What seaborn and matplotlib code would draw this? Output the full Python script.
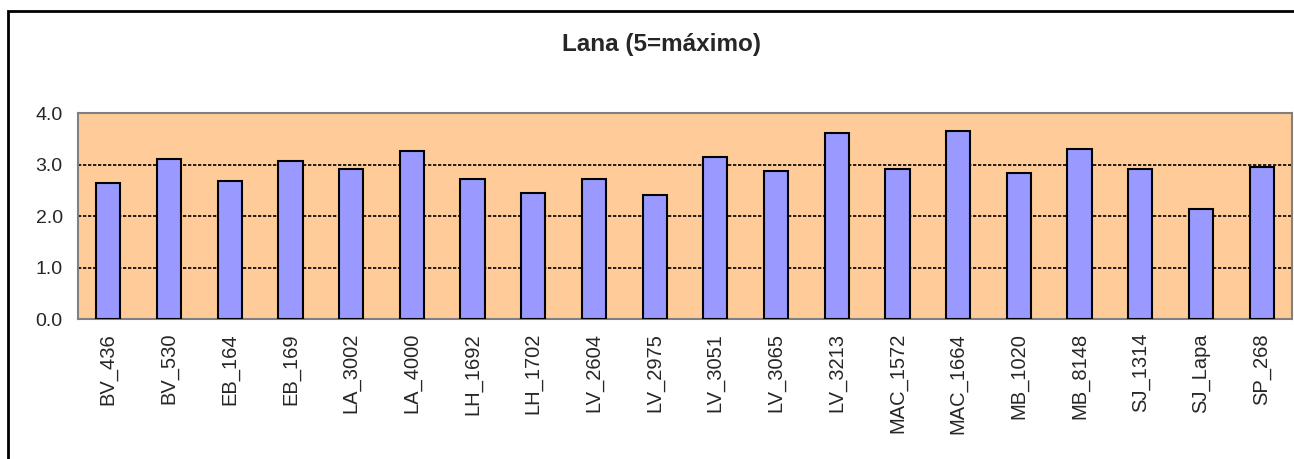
import pandas as pd
import seaborn as sns
import matplotlib.pyplot as plt
from matplotlib.patches import Rectangle

# values
muestras = ['BV_436', 'BV_530', 'EB_164', 'EB_169', 'LA_3002', 'LA_4000',
            'LH_1692', 'LH_1702', 'LV_2604', 'LV_2975', 'LV_3051', 'LV_3065',
            'LV_3213', 'MAC_1572', 'MAC_1664', 'MB_1020', 'MB_8148', 'SJ_1314',
            'SJ_Lapa', 'SP_268']
lana = [2.65, 3.11, 2.68, 3.07, 2.92, 3.27,
        2.72, 2.45, 2.72, 2.41, 3.15, 2.88,
        3.62, 2.92, 3.66, 2.84, 3.31, 2.92,
        2.14, 2.96]
y_ticks = [0.0, 1.0, 2.0, 3.0, 4.0]
titulo = 'Lana (5=máximo)'

df = pd.DataFrame({'muestra': muestras, 'lana': lana})

sns.set_style('white')
plt.rcParams['font.family'] = ['Liberation Sans', 'DejaVu Sans']

fig = plt.figure(figsize=(12.94, 4.59), dpi=100)
ax = fig.add_axes([78 / 1294, 140 / 459, 1214 / 1294, 206 / 459])

sns.barplot(x='muestra', y='lana', data=df, color='#9999FF', width=0.4,
            edgecolor='black', linewidth=1.5, saturation=1, ax=ax, zorder=3)

ax.set_facecolor('#FFCC99')
ax.set_ylim(0, 4)
ax.set_xlim(-0.5, len(muestras) - 0.5)
ax.set_yticks(y_ticks)
ax.set_yticklabels([f'{v:.1f}' for v in y_ticks], fontsize=14)
ax.set_xticks(range(len(muestras)))
ax.set_xticklabels(muestras, rotation=90, fontsize=14.5)
ax.tick_params(axis='both', length=0)
ax.tick_params(axis='y', pad=11)
ax.tick_params(axis='x', pad=10)
ax.set_xlabel('')
ax.set_ylabel('')

for v in [1.0, 2.0, 3.0]:
    ax.axhline(v, color='black', linestyle=(0, (2, 1)), linewidth=1.2, zorder=2)

for s in ax.spines.values():
    s.set_visible(True)
    s.set_color('#808080')
    s.set_linewidth(1.5)

fig.text(662 / 1294, 0.902, titulo, ha='center', va='center',
         fontsize=17.5, fontweight='bold')

# chart frame (right and bottom sides fall outside the image)
fig.patches.append(Rectangle((8 / 1294, -0.1), 1.2, 1 - 11 / 459 + 0.1,
                             transform=fig.transFigure, fill=False,
                             edgecolor='black', linewidth=2))

fig.savefig('out.png', dpi=100)
